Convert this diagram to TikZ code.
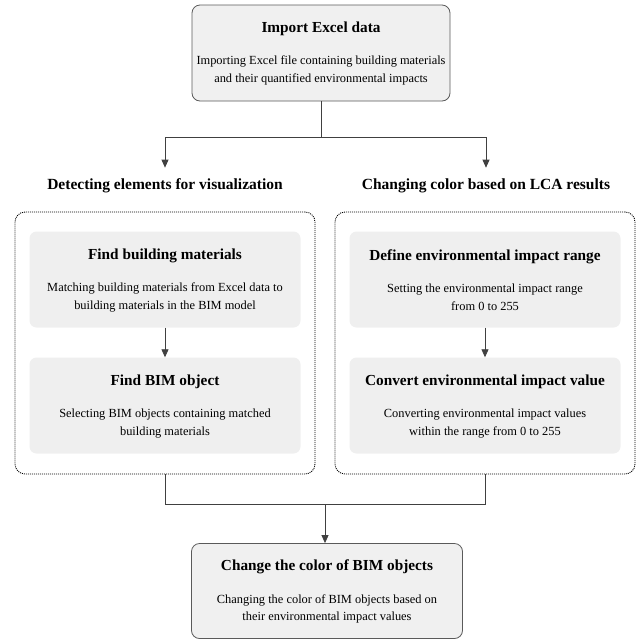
\documentclass[tikz,border=0pt]{standalone}
\usepackage{fontspec}
\setmainfont{Liberation Serif}
\usetikzlibrary{arrows.meta}
\definecolor{boxfill}{HTML}{F0F0F0}
\definecolor{innerfill}{HTML}{EFEFEF}
\definecolor{boxline}{HTML}{5A5A5A}
\tikzset{
  mainbox/.style={draw=boxline, fill=boxfill, rounded corners=8pt, line width=0.8pt, minimum width=258pt, minimum height=96pt, inner sep=0pt},
  innerbox/.style={fill=innerfill, rounded corners=7pt, minimum width=271pt, minimum height=96pt, inner sep=0pt},
  grpbox/.style={draw=black, dash pattern=on 1pt off 1pt, line width=0.9pt, rounded corners=10pt, minimum width=300pt, minimum height=262pt, inner sep=0pt},
  ttl/.style={font=\fontsize{15.3}{17}\selectfont\bfseries, inner sep=0pt},
  bodytxt/.style={font=\fontsize{12.4}{17.5}\selectfont, align=center, inner sep=0pt},
  heading/.style={font=\fontsize{15.5}{17}\selectfont\bfseries, inner xsep=0pt, inner ysep=11pt},
  conn/.style={draw=black!75, line width=0.8pt},
  arr/.style={conn, -{Triangle[width=7pt,length=8pt]}}
}
\begin{document}
\begin{tikzpicture}[x=1pt, y=-1pt]
\useasboundingbox (0,0) rectangle (642,641);
% top box
\node[mainbox] (imp) at (321,53) {};
\node[ttl] (impt) at ([yshift=-24pt]imp.north) {Import Excel data};
\node[bodytxt] (impb) at ([yshift=-66pt]imp.north) {Importing Excel file containing building materials\\and their quantified environmental impacts};
% headings
\node[heading] (lhead) at (165,186) {Detecting elements for visualization};
\node[heading] (rhead) at (486,186) {Changing color based on LCA results};
% group boxes
\node[grpbox] (lgrp) at (165,343) {};
\node[grpbox] (rgrp) at (485,343) {};
% inner boxes left
\node[innerbox] (fbm) at (165,279.5) {};
\node[ttl] (fbmt) at ([yshift=-25pt]fbm.north) {Find building materials};
\node[bodytxt] (fbmb) at ([yshift=-66pt]fbm.north) {Matching building materials from Excel data to\\building materials in the BIM model};
\node[innerbox] (fbo) at (165,405.5) {};
\node[ttl] (fbot) at ([yshift=-25pt]fbo.north) {Find BIM object};
\node[bodytxt] (fbob) at ([yshift=-66pt]fbo.north) {Selecting BIM objects containing matched\\building materials};
% inner boxes right
\node[innerbox] (der) at (485,279.5) {};
\node[ttl] (dert) at ([yshift=-25pt]der.north) {Define environmental impact range};
\node[bodytxt] (derb) at ([yshift=-66pt]der.north) {Setting the environmental impact range\\from 0 to 255};
\node[innerbox] (cev) at (485,405.5) {};
\node[ttl] (cevt) at ([yshift=-25pt]cev.north) {Convert environmental impact value};
\node[bodytxt] (cevb) at ([yshift=-66pt]cev.north) {Converting environmental impact values\\within the range from 0 to 255};
% bottom box
\node[mainbox, minimum width=271pt, minimum height=95pt] (chg) at (327,591) {};
\node[ttl] (chgt) at ([yshift=-24pt]chg.north) {Change the color of BIM objects};
\node[bodytxt] (chgb) at ([yshift=-66pt]chg.north) {Changing the color of BIM objects based on\\their environmental impact values};
% connectors
\coordinate (j1) at (321,137);
\coordinate (j2) at (325,504);
\draw[conn] (imp.south) -- (j1);
\draw[arr] (j1) -| (lhead.north);
\draw[arr] (j1) -| (rhead.north);
\draw[arr] (fbm.south) -- (fbo.north);
\draw[arr] (der.south) -- (cev.north);
\draw[conn] (lgrp.south) |- (j2);
\draw[conn] (rgrp.south) |- (j2);
\draw[arr] (j2) -- (j2 |- chg.north);
\end{tikzpicture}
\end{document}
